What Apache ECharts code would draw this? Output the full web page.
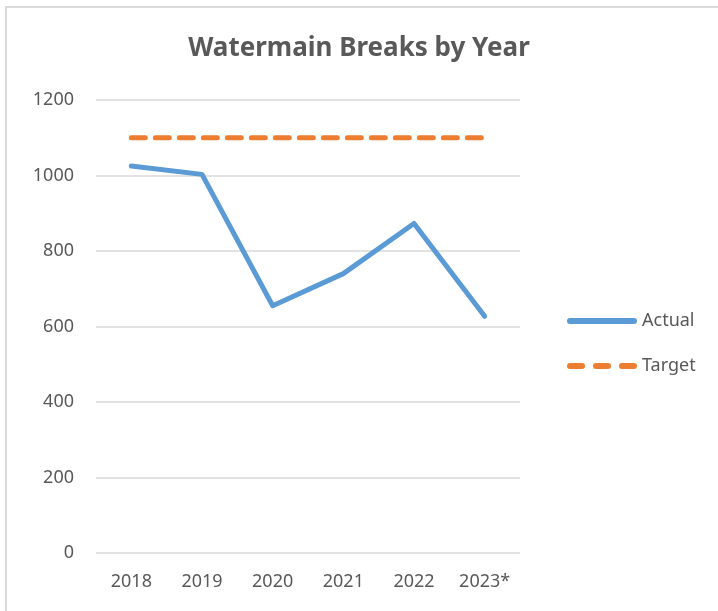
<!DOCTYPE html>
<html>
<head>
<meta charset="utf-8">
<script src="https://cdn.jsdelivr.net/npm/echarts@6/dist/echarts.min.js"></script>
<style>
  html, body { margin: 0; padding: 0; background: #fff; }
  #frame {
    position: absolute; left: 5px; top: 6px; width: 720px; height: 610px;
    border-top: 2px solid #d9d9d9; border-left: 2px solid #d9d9d9;
  }
  #chart { position: absolute; left: 0; top: 0; width: 718px; height: 611px; }
</style>
</head>
<body>
<div id="frame"></div>
<div id="chart"></div>
<script>
// 数据
const years = ['2018', '2019', '2020', '2021', '2022', '2023*']
const actual = [1025, 1003, 655, 740, 873, 627]
const target = [1100, 1100, 1100, 1100, 1100, 1100]

const font = 'Noto Sans, sans-serif'
const textGray = '#595959'

const myChart = echarts.init(document.getElementById('chart'))
myChart.setOption({
    animation: false,
    title: {
        text: 'Watermain Breaks by Year',
        left: 'center',
        top: 31,
        textStyle: { color: textGray, fontSize: 26, fontWeight: 'bold', fontFamily: font },
    },
    legend: {
        orient: 'vertical',
        left: 562,
        top: 307,
        itemWidth: 70,
        itemHeight: 6,
        itemGap: 27,
        textStyle: { color: textGray, fontSize: 18, fontFamily: font },
        data: [
            { name: 'Actual', icon: 'path://M3,0 L67,0 A3,3 0 0 1 67,6 L3,6 A3,3 0 0 1 3,0 Z' },
            { name: 'Target', icon: 'path://M3,0 L15,0 A3,3 0 0 1 15,6 L3,6 A3,3 0 0 1 3,0 Z M29,0 L41,0 A3,3 0 0 1 41,6 L29,6 A3,3 0 0 1 29,0 Z M55,0 L67,0 A3,3 0 0 1 67,6 L55,6 A3,3 0 0 1 55,0 Z' },
        ],
    },
    grid: { left: 96, right: 198, top: 100, bottom: 58 },
    xAxis: {
        type: 'category',
        data: years,
        boundaryGap: true,
        axisTick: { show: false },
        axisLine: { show: false },
        axisLabel: { color: textGray, fontSize: 18, fontFamily: font, margin: 20 },
    },
    yAxis: {
        type: 'value',
        min: 0,
        max: 1200,
        interval: 200,
        axisLabel: {
            color: textGray, fontSize: 18, fontFamily: font, margin: 22,
            formatter: (v) => String(v),
        },
        splitLine: { lineStyle: { color: '#d9d9d9', width: 1.5 } },
    },
    series: [
        {
            name: 'Actual',
            type: 'line',
            symbol: 'none',
            data: actual,
            itemStyle: { color: '#5b9bd5' },
            lineStyle: { color: '#5b9bd5', width: 5, cap: 'round', join: 'round' },
        },
        {
            name: 'Target',
            type: 'line',
            symbol: 'none',
            data: target,
            itemStyle: { color: '#ed7d31' },
            lineStyle: { color: '#ed7d31', width: 5, type: [14, 10], cap: 'round' },
        },
    ],
})
</script>
</body>
</html>
